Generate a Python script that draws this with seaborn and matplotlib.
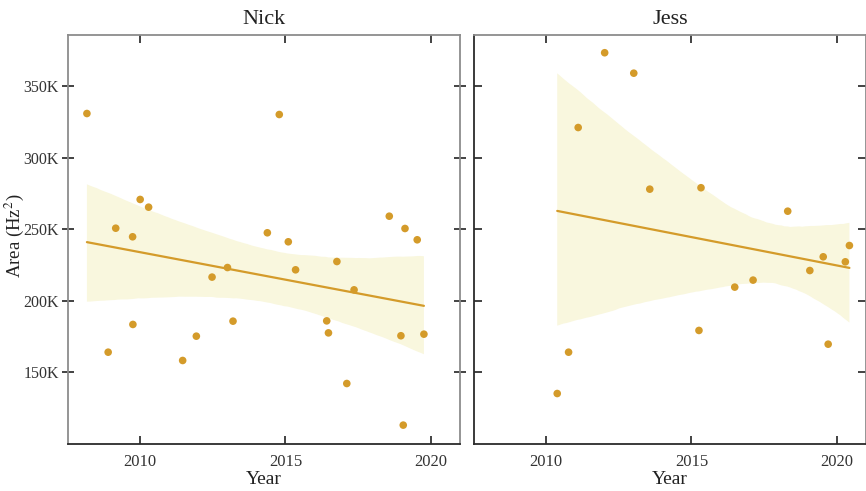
import numpy as np
import pandas as pd
import matplotlib
matplotlib.use("Agg")
import matplotlib.pyplot as plt
from matplotlib.ticker import FuncFormatter
import seaborn as sns

# Nick's measurements: year and formant-space area (Hz^2)
nick_year = [2008.18, 2008.91, 2009.17, 2009.75, 2009.76, 2010.01, 2010.30,
             2011.47, 2011.94, 2012.48, 2013.01, 2013.20, 2014.38, 2014.79,
             2015.10, 2015.35, 2016.42, 2016.48, 2016.77, 2017.11, 2017.36,
             2018.57, 2018.97, 2019.05, 2019.11, 2019.53, 2019.76]
nick_area = [331100, 164200, 250900, 244900, 183600, 271000, 265600,
             158400, 175400, 216700, 223400, 185900, 247700, 330400,
             241400, 221800, 186100, 177700, 227600, 142300, 207800,
             259300, 175700, 113200, 250700, 242800, 176800]

# Jess's measurements
jess_year = [2010.39, 2010.78, 2011.11, 2012.02, 2013.02, 2013.57, 2015.26,
             2015.33, 2016.49, 2017.12, 2018.31, 2019.07, 2019.53, 2019.70,
             2020.29, 2020.43]
jess_area = [135300, 164200, 321300, 373600, 359300, 278200, 179400,
             279200, 209700, 214600, 262800, 221300, 230900, 169800,
             227400, 238800]

speakers = ["Nick", "Jess"]
series = {"Nick": (nick_year, nick_area), "Jess": (jess_year, jess_area)}

x_ticks = [2010, 2015, 2020]
y_ticks = [150000, 200000, 250000, 300000, 350000]

sns.set_theme(style="white")
plt.rcParams["font.family"] = ["Liberation Serif", "DejaVu Serif"]
plt.rcParams["mathtext.fontset"] = "stix"

gold = "#D49B2A"
band = "#F9F7DE"
dark = "#2b2b2b"
grey = "#8c8c8c"

fig = plt.figure(figsize=(8.66, 4.91), dpi=100)
ax_n = fig.add_axes([68 / 866, 1 - 444 / 491, 392 / 866, 409 / 491])
ax_j = fig.add_axes([474 / 866, 1 - 444 / 491, 392 / 866, 409 / 491], sharey=ax_n)

for ax, name in zip([ax_n, ax_j], speakers):
    years, areas = series[name]
    df = pd.DataFrame({"Year": years, "Area": areas})
    sns.regplot(data=df, x="Year", y="Area", ax=ax, scatter=False,
                color=gold, seed=0, n_boot=4000, truncate=True,
                line_kws={"lw": 1.6, "zorder": 2})
    for coll in ax.collections:
        coll.set_facecolor(band)
        coll.set_edgecolor("none")
        coll.set_alpha(1)
        coll.set_zorder(1)
    sns.scatterplot(data=df, x="Year", y="Area", ax=ax, color=gold,
                    s=30, edgecolor="none", zorder=3)

    ax.set_xlim(2007.53, 2021.0)
    ax.set_ylim(100000, 386000)
    ax.set_xticks(x_ticks)
    ax.set_yticks(y_ticks)
    ax.set_title(name, fontsize=16, pad=8, color="#222222")
    ax.set_xlabel("Year", fontsize=14, labelpad=1, color="#222222")
    ax.tick_params(axis="x", which="both", direction="in", length=6,
                   top=True, bottom=True, labelsize=12, pad=7,
                   labelcolor="#333333", color=dark)
    ax.tick_params(axis="y", which="both", direction="in", length=6,
                   left=True, right=True, labelsize=11.5, labelcolor="#333333",
                   color=dark)
    for t in ax.xaxis.get_major_ticks() + ax.yaxis.get_major_ticks():
        t.tick2line.set_color(grey)
    for side in ["top", "right"]:
        ax.spines[side].set_color(grey)
        ax.spines[side].set_linewidth(1.3)
    ax.spines["bottom"].set_color(dark)
    ax.spines["bottom"].set_linewidth(1.3)
    ax.spines["left"].set_linewidth(1.3)
    ax.grid(False)

ax_n.spines["left"].set_color(grey)
ax_j.spines["left"].set_color(dark)
ax_n.tick_params(axis="y", which="major", direction="inout", length=9,
                 left=True, pad=2)
for t in ax_n.yaxis.get_major_ticks():
    t.tick1line.set_color(grey)
ax_n.set_ylabel("Area (Hz$^2$)", fontsize=13.5, color="#222222")
ax_n.yaxis.set_label_coords(-0.108, 0.51)
ax_n.yaxis.set_major_formatter(FuncFormatter(lambda v, p: f"{v / 1000:.0f}K"))
ax_j.set_ylabel("")
ax_j.tick_params(axis="y", labelleft=False)

fig.savefig("out.png", dpi=100)
